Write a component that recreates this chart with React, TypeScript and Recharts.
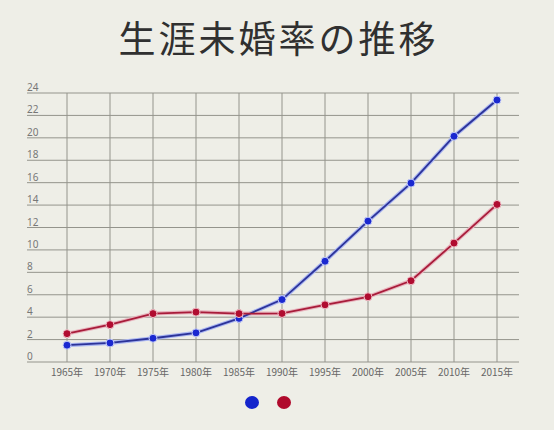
import React from 'react';
import { LineChart, Line, XAxis, YAxis, CartesianGrid, Legend } from 'recharts';

const years = ['1965年', '1970年', '1975年', '1980年', '1985年', '1990年', '1995年', '2000年', '2005年', '2010年', '2015年'];
const male = [1.5, 1.7, 2.12, 2.6, 3.89, 5.57, 8.99, 12.57, 15.96, 20.14, 23.37];
const female = [2.53, 3.33, 4.32, 4.45, 4.32, 4.33, 5.1, 5.82, 7.25, 10.61, 14.06];
const yTicks = [0, 2, 4, 6, 8, 10, 12, 14, 16, 18, 20, 22, 24];
const seriesOrder = ['male', 'female'];

const data = years.map((y, i) => ({ year: y, male: male[i], female: female[i] }));

const YTick = (props: any) => {
  const { x, y, payload } = props;
  return (
    <text x={x} y={y - 6} textAnchor="start" fontSize={10} fill="#777" fontFamily="'Noto Sans', sans-serif" dominantBaseline="central">
      {payload.value}
    </text>
  );
};

const XTick = (props: any) => {
  const { x, y, payload } = props;
  return (
    <text x={x} y={y} dy={3} textAnchor="middle" fontSize={10} fill="#666" fontFamily="'Noto Sans CJK JP', sans-serif" dominantBaseline="central">
      {payload.value}
    </text>
  );
};

const LegendDots = (props: any) => {
  const items = (props.payload || [])
    .filter((p: any) => p.type !== 'none')
    .sort((a: any, b: any) => seriesOrder.indexOf(a.dataKey) - seriesOrder.indexOf(b.dataKey));
  return (
    <div style={{ display: 'flex', justifyContent: 'center', gap: 18, transform: 'translateX(-9px)' }}>
      {items.map((p: any, i: number) => (
        <span key={i} style={{ display: 'inline-block', width: 14, height: 13, borderRadius: '50%', background: p.color === '#2c3399' ? '#1424cc' : '#b00a2c' }} />
      ))}
    </div>
  );
};

export default function App() {
  return (
    <div style={{ position: 'absolute', left: 0, top: 0, width: 554, height: 430, background: '#eeeee7', overflow: 'hidden' }}>
      <div style={{ position: 'absolute', left: 0, top: 19, width: 554, paddingLeft: 3, boxSizing: 'border-box', textAlign: 'center', fontSize: 37, lineHeight: '37px', letterSpacing: 3, color: '#303030', fontFamily: "'Noto Sans CJK JP', sans-serif" }}>
        生涯未婚率の推移
      </div>
      <LineChart width={554} height={430} data={data} margin={{ top: 93, right: 35, left: 26, bottom: 38 }}>
        <CartesianGrid stroke="#94948c" strokeWidth={1} syncWithTicks={true} />
        <XAxis dataKey="year" height={30} padding={{ left: 40, right: 22 }} axisLine={false} tickLine={false} tickSize={0} tickMargin={6} tick={<XTick />} interval={0} />
        <YAxis width={1} domain={[0, 24]} ticks={yTicks} axisLine={false} tickLine={false} tickSize={0} tickMargin={0} tick={<YTick />} interval={0} />
        <Legend layout="horizontal" verticalAlign="middle" align="center" content={<LegendDots />} wrapperStyle={{ position: 'absolute', top: 396, left: 0, width: 554 }} />
        <Line dataKey="male" stroke="#aab6f2" strokeWidth={4} dot={false} legendType="none" isAnimationActive={false} />
        <Line dataKey="female" stroke="#e8b4be" strokeWidth={4} dot={false} legendType="none" isAnimationActive={false} />
        <Line dataKey="male" name="男性" stroke="#2c3399" strokeWidth={1.8} dot={{ r: 4, fill: '#1a28d0', stroke: '#c8d0f8', strokeWidth: 1 }} activeDot={false} isAnimationActive={false} />
        <Line dataKey="female" name="女性" stroke="#a81c3a" strokeWidth={1.8} dot={{ r: 4, fill: '#b00c30', stroke: '#f0c0c8', strokeWidth: 1 }} activeDot={false} isAnimationActive={false} />
      </LineChart>
    </div>
  );
}
